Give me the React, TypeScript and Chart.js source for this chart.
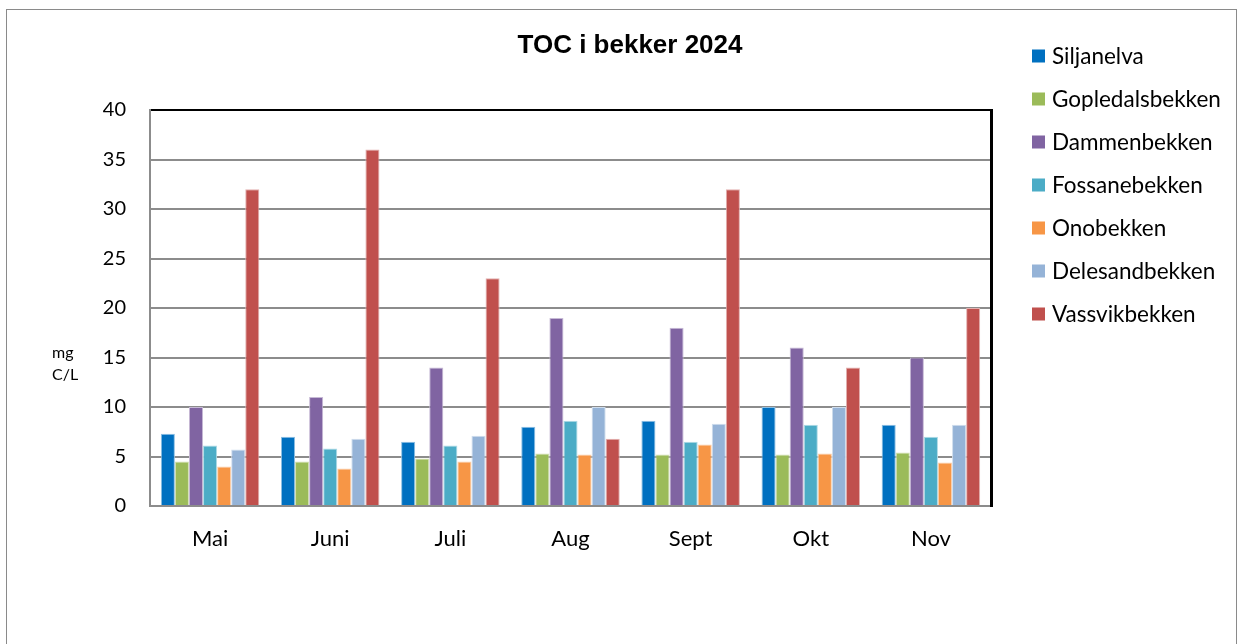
import React, { useEffect, useRef } from "react";
import { Chart, registerables } from "chart.js";

Chart.register(...registerables);

const months = ["Mai", "Juni", "Juli", "Aug", "Sept", "Okt", "Nov"];
const seriesNames = ["Siljanelva", "Gopledalsbekken", "Dammenbekken", "Fossanebekken", "Onobekken", "Delesandbekken", "Vassvikbekken"];
const siljanelva = [7.3, 7.0, 6.5, 8.0, 8.6, 10, 8.2];
const gopledalsbekken = [4.5, 4.5, 4.8, 5.3, 5.2, 5.2, 5.4];
const dammenbekken = [10, 11, 14, 19, 18, 16, 15];
const fossanebekken = [6.1, 5.8, 6.1, 8.6, 6.5, 8.2, 7.0];
const onobekken = [4.0, 3.8, 4.5, 5.2, 6.2, 5.3, 4.4];
const delesandbekken = [5.7, 6.8, 7.1, 10, 8.3, 10, 8.2];
const vassvikbekken = [32, 36, 23, 6.8, 32, 14, 20];
const seriesColors = ["#0070C0", "#9BBB59", "#8064A2", "#4BACC6", "#F79646", "#95B3D7", "#C0504D"];
const title = "TOC i bekker 2024";
const unitLines = ["mg", "C/L"];
const yMin = 0;
const yMax = 40;
const yStep = 5;

const allSeries = [siljanelva, gopledalsbekken, dammenbekken, fossanebekken, onobekken, delesandbekken, vassvikbekken];

function lighten(hex: string, t: number) {
  const n = parseInt(hex.slice(1), 16);
  const r = (n >> 16) & 255, g = (n >> 8) & 255, b = n & 255;
  const f = (v: number) => Math.round(v + (255 - v) * t);
  return `rgb(${f(r)},${f(g)},${f(b)})`;
}

const decorPlugin = {
  id: "decor",
  beforeDraw(chart: any) {
    const ctx = chart.ctx;
    ctx.save();
    ctx.fillStyle = "#ffffff";
    ctx.fillRect(0, 0, chart.width, chart.height);
    ctx.strokeStyle = "#8a8a8a";
    ctx.lineWidth = 1;
    ctx.strokeRect(6.5, 9.5, 1230, 700);
    ctx.restore();
  },
  afterDraw(chart: any) {
    const ctx = chart.ctx;
    const ca = chart.chartArea;
    ctx.save();
    ctx.strokeStyle = "#000000";
    ctx.lineWidth = 3;
    ctx.beginPath();
    ctx.moveTo(ca.right + 0.5, ca.top - 1);
    ctx.lineTo(ca.right + 0.5, ca.bottom + 1);
    ctx.stroke();

    ctx.fillStyle = "#000000";
    ctx.font = "bold 26px 'Liberation Sans', Arial, sans-serif";
    ctx.textAlign = "center";
    ctx.textBaseline = "middle";
    ctx.fillText(title, 630, 46);

    ctx.font = "16px Lato, sans-serif";
    ctx.textAlign = "left";
    unitLines.forEach((t, i) => ctx.fillText(t, 52, 353 + i * 22));

    ctx.font = "22.5px Lato, sans-serif";
    chart.data.datasets.forEach((ds: any, i: number) => {
      const cy = 56 + i * 43;
      ctx.fillStyle = ds.backgroundColor;
      ctx.fillRect(ca.right + 41, cy - 6.5, 13, 13);
      ctx.fillStyle = "#000000";
      ctx.fillText(ds.label, ca.right + 61, cy + 1);
    });
    ctx.restore();
  },
};

export default function App() {
  const ref = useRef<HTMLCanvasElement | null>(null);
  useEffect(() => {
    if (!ref.current) return;
    const chart = new Chart(ref.current, {
      type: "bar",
      data: {
        labels: months,
        datasets: allSeries.map((d, i) => ({
          label: seriesNames[i],
          data: d,
          backgroundColor: seriesColors[i],
          borderColor: lighten(seriesColors[i], 0.55),
          borderWidth: 1,
          categoryPercentage: 0.82,
          barPercentage: 1,
        })),
      },
      options: {
        responsive: false,
        animation: false,
        events: [],
        layout: { padding: { left: 0, right: 253, top: 110, bottom: 0 } },
        plugins: {
          legend: { display: false },
          title: { display: false },
          tooltip: { enabled: false },
        },
        scales: {
          x: {
            grid: { display: false },
            border: { display: true, color: "#8c8c8c", width: 2 },
            ticks: { color: "#000000", font: { family: "Lato", size: 22 }, padding: 12 },
            afterFit: (s: any) => {
              s.height = 138;
            },
          },
          y: {
            min: yMin,
            max: yMax,
            ticks: { stepSize: yStep, color: "#000000", font: { family: "Lato", size: 20 }, padding: 24 },
            grid: {
              drawTicks: false,
              lineWidth: 2,
              color: (c: any) => (c.tick && c.tick.value === yMax ? "#000000" : "#8c8c8c"),
            },
            border: { display: true, color: "#8c8c8c", width: 2 },
            afterFit: (s: any) => {
              s.width = 150;
            },
          },
        },
      },
      plugins: [decorPlugin],
    });
    return () => chart.destroy();
  }, []);
  return (
    <div style={{ position: "fixed", left: 0, top: 0, width: 1244, height: 644, background: "#fff", overflow: "hidden" }}>
      <canvas ref={ref} width={1244} height={644} style={{ display: "block" }} />
    </div>
  );
}
